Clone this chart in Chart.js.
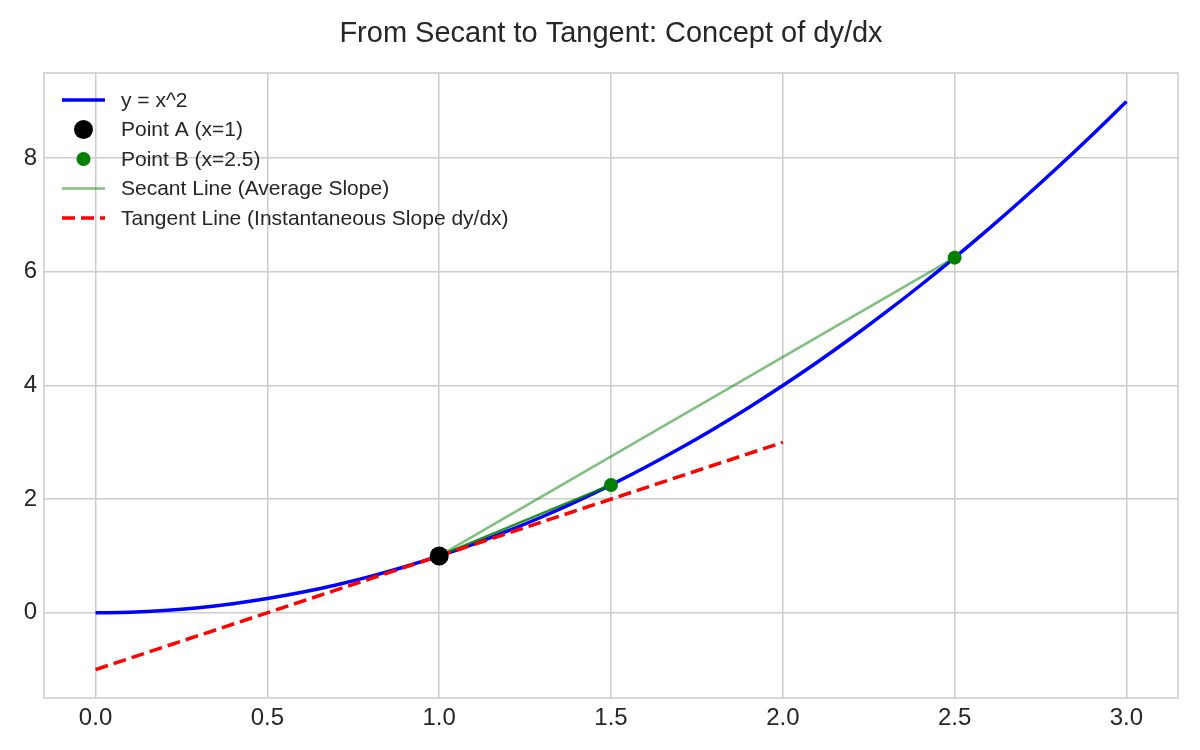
<!DOCTYPE html>
<html>
<head>
<meta charset="utf-8">
<script src="https://cdn.jsdelivr.net/npm/chart.js"></script>
<style>
  html, body { margin: 0; padding: 0; background: #ffffff; }
  #chart { display: block; }
</style>
</head>
<body>
<canvas id="chart" width="1200" height="750"></canvas>
<script>
// y = x^2
var curveX = [0, 0.1, 0.2, 0.3, 0.4, 0.5, 0.6, 0.7, 0.8, 0.9, 1, 1.1, 1.2, 1.3, 1.4, 1.5,
              1.6, 1.7, 1.8, 1.9, 2, 2.1, 2.2, 2.3, 2.4, 2.5, 2.6, 2.7, 2.8, 2.9, 3];
var curveY = [0, 0.01, 0.04, 0.09, 0.16, 0.25, 0.36, 0.49, 0.64, 0.81, 1, 1.21, 1.44, 1.69, 1.96, 2.25,
              2.56, 2.89, 3.24, 3.61, 4, 4.41, 4.84, 5.29, 5.76, 6.25, 6.76, 7.29, 7.84, 8.41, 9];

var pointAX = [1];
var pointAY = [1];
var pointBX = [2.5];
var pointBY = [6.25];
var midPointX = [1.5];
var midPointY = [2.25];

var secantX = [1, 2.5];
var secantY = [1, 6.25];
var secantNearX = [1, 1.5];
var secantNearY = [1, 2.25];

var tangentX = [0, 2];
var tangentY = [-1, 3];

var xTicks = [0, 0.5, 1, 1.5, 2, 2.5, 3];
var yTicks = [0, 2, 4, 6, 8];

var TITLE = 'From Secant to Tangent: Concept of dy/dx';
var FONT = '"Liberation Sans", Arial, sans-serif';
var TEXT = '#262626';
var GRID = '#cccccc';

function pts(xs, ys) {
  return xs.map(function(x, i) { return { x: x, y: ys[i] }; });
}

// legend entries, drawn inside the plot like matplotlib
var legendItems = [
  { label: 'y = x^2', kind: 'line', color: '#0000ff', width: 3.5 },
  { label: 'Point A (x=1)', kind: 'dot', color: '#000000', r: 9.5 },
  { label: 'Point B (x=2.5)', kind: 'dot', color: '#008000', r: 7 },
  { label: 'Secant Line (Average Slope)', kind: 'line', color: 'rgba(0,128,0,0.5)', width: 2.5 },
  { label: 'Tangent Line (Instantaneous Slope dy/dx)', kind: 'line', color: '#ff0000', width: 3.5, dash: [13, 6] }
];

var framePlugin = {
  id: 'frame',
  beforeDatasetsDraw: function(chart) {
    var a = chart.chartArea, ctx = chart.ctx;
    ctx.save();
    ctx.strokeStyle = GRID;
    ctx.lineWidth = 1.5;
    ctx.strokeRect(a.left, a.top, a.right - a.left, a.bottom - a.top);
    ctx.restore();
  },
  afterDraw: function(chart) {
    var ctx = chart.ctx;
    var a = chart.chartArea;

    ctx.save();
    ctx.fillStyle = TEXT;
    ctx.font = '29px ' + FONT;
    ctx.textAlign = 'center';
    ctx.textBaseline = 'middle';
    ctx.fillText(TITLE, (a.left + a.right) / 2, 34);
    ctx.restore();

    var x0 = a.left + 18, y0 = a.top + 27, step = 29.5;
    ctx.save();
    ctx.font = '21px ' + FONT;
    ctx.textBaseline = 'middle';
    legendItems.forEach(function(it, i) {
      var y = y0 + i * step;
      if (it.kind === 'line') {
        ctx.beginPath();
        ctx.setLineDash(it.dash || []);
        ctx.strokeStyle = it.color;
        ctx.lineWidth = it.width;
        ctx.moveTo(x0, y);
        ctx.lineTo(x0 + 43, y);
        ctx.stroke();
        ctx.setLineDash([]);
      } else {
        ctx.beginPath();
        ctx.fillStyle = it.color;
        ctx.arc(x0 + 21.5, y, it.r, 0, Math.PI * 2);
        ctx.fill();
      }
      ctx.fillStyle = TEXT;
      ctx.fillText(it.label, x0 + 59, y + 1);
    });
    ctx.restore();
  }
};

new Chart(document.getElementById('chart'), {
  type: 'scatter',
  data: {
    datasets: [
      {
        label: 'y = x^2',
        data: pts(curveX, curveY),
        showLine: true,
        borderColor: '#0000ff',
        borderWidth: 3.5,
        pointRadius: 0,
        cubicInterpolationMode: 'monotone',
        order: 6
      },
      {
        label: 'Secant Line (Average Slope)',
        data: pts(secantX, secantY),
        showLine: true,
        borderColor: 'rgba(0,128,0,0.5)',
        borderWidth: 2.5,
        pointRadius: 0,
        order: 5
      },
      {
        label: 'secant near',
        data: pts(secantNearX, secantNearY),
        showLine: true,
        borderColor: 'rgba(0,128,0,0.85)',
        borderWidth: 2.5,
        pointRadius: 0,
        order: 4
      },
      {
        label: 'Tangent Line (Instantaneous Slope dy/dx)',
        data: pts(tangentX, tangentY),
        showLine: true,
        borderColor: '#ff0000',
        borderWidth: 3.5,
        borderDash: [13, 6],
        pointRadius: 0,
        order: 3
      },
      {
        label: 'mid point',
        data: pts(midPointX, midPointY),
        backgroundColor: '#008000',
        borderWidth: 0,
        pointRadius: 7,
        order: 2
      },
      {
        label: 'Point B (x=2.5)',
        data: pts(pointBX, pointBY),
        backgroundColor: '#008000',
        borderWidth: 0,
        pointRadius: 7,
        order: 2
      },
      {
        label: 'Point A (x=1)',
        data: pts(pointAX, pointAY),
        backgroundColor: '#000000',
        borderWidth: 0,
        pointRadius: 9.5,
        order: 1
      }
    ]
  },
  options: {
    responsive: false,
    animation: false,
    devicePixelRatio: 1,
    layout: { padding: { left: 0, right: 22, top: 73, bottom: 0 } },
    plugins: {
      legend: { display: false },
      tooltip: { enabled: false },
      title: { display: false }
    },
    scales: {
      x: {
        type: 'linear',
        min: -0.15,
        max: 3.15,
        afterBuildTicks: function(s) { s.ticks = xTicks.map(function(v) { return { value: v }; }); },
        afterFit: function(s) { s.height = 52; },
        ticks: {
          color: TEXT,
          font: { family: FONT, size: 24 },
          padding: 6,
          callback: function(v) { return v.toFixed(1); }
        },
        grid: { color: GRID, lineWidth: 1.5, drawTicks: false },
        border: { display: false }
      },
      y: {
        type: 'linear',
        min: -1.5,
        max: 9.5,
        afterBuildTicks: function(s) { s.ticks = yTicks.map(function(v) { return { value: v }; }); },
        afterFit: function(s) { s.width = 44; },
        ticks: {
          color: TEXT,
          font: { family: FONT, size: 24 },
          padding: 7,
          callback: function(v) { return String(v); }
        },
        grid: { color: GRID, lineWidth: 1.5, drawTicks: false },
        border: { display: false }
      }
    }
  },
  plugins: [framePlugin]
});
</script>
</body>
</html>
